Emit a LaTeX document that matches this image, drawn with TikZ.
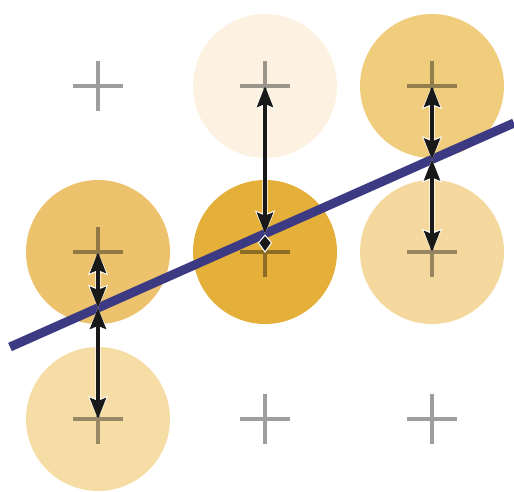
\documentclass[tikz,border=0pt]{standalone}
\usetikzlibrary{arrows.meta,calc}
\definecolor{dotA}{HTML}{EDC26C}
\definecolor{dotB}{HTML}{F6DDA6}
\definecolor{dotC}{HTML}{FDF2E2}
\definecolor{dotD}{HTML}{E5B03A}
\definecolor{dotE}{HTML}{F0CC7D}
\definecolor{dotF}{HTML}{F5D89D}
\definecolor{fitline}{HTML}{3C3A82}
\begin{document}
\begin{tikzpicture}[x=1pt,y=-1pt,
	dot/.style={fill=#1,draw=none},
	cross/.style={black,opacity=0.38,line width=4.2pt},
	halo/.style={white,line width=5.4pt,{Stealth[length=22.5pt,width=19pt,inset=3pt]}-{Stealth[length=22.5pt,width=19pt,inset=3pt]}},
	resid/.style={black!90,line width=3.6pt,{Stealth[length=21pt,width=16pt,inset=3pt]}-{Stealth[length=21pt,width=16pt,inset=3pt]}}]
	\useasboundingbox (0,0) rectangle (514,492);
	% grid points
	\foreach \i/\x in {1/98,2/265,3/432}
		\foreach \j/\y in {1/86,2/252,3/419}
			\coordinate (g\i\j) at (\x,\y);
	% circles
	\fill[dot=dotA] (g12) circle (72);
	\fill[dot=dotB] (g13) circle (72);
	\fill[dot=dotC] (g21) circle (72);
	\fill[dot=dotD] (g22) circle (72);
	\fill[dot=dotE] (g31) circle (72);
	\fill[dot=dotF] (g32) circle (72);
	% crosses
	\foreach \i in {1,2,3}
		\foreach \j in {1,2,3}
			\draw[cross] ($(g\i\j)+(-25,0)$) -- ($(g\i\j)+(25,0)$)
				($(g\i\j)+(0,-25)$) -- ($(g\i\j)+(0,25)$);
	% fitted line
	\coordinate (lineL) at (10,347);
	\coordinate (lineR) at (514,123);
	\draw[fitline,line width=9pt] (lineL) -- (lineR);
	\coordinate (p1) at ($(lineL)!{88/504}!(lineR)$);
	\coordinate (p2) at ($(lineL)!{255/504}!(lineR)$);
	\coordinate (p3) at ($(lineL)!{422/504}!(lineR)$);
	% residuals
	\foreach \a/\b in {g12/p1,g13/p1,g21/p2,g31/p3,g32/p3}{
		\draw[halo] (\a) -- (\b);
		\draw[resid] (\a) -- (\b);
	}
	% short one: the two heads meet
	\filldraw[fill=black!90,draw=white,line width=1pt] ($(p2)+(0,1.5)$)
		-- ($(p2)!0.5!(g22)+(-6.5,0)$) -- (g22) -- ($(p2)!0.5!(g22)+(6.5,0)$) -- cycle;
\end{tikzpicture}
\end{document}
